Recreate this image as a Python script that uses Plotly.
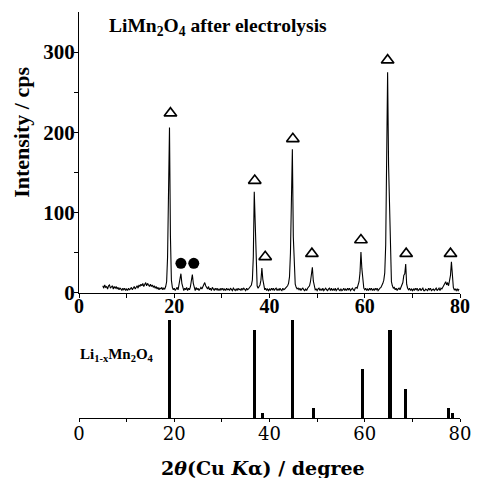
import plotly.graph_objects as go

# ---------------- data ----------------
# XRD pattern (LiMn2O4 after electrolysis): 2theta from 5.0 deg in 0.2 deg steps
two_theta_start = 5.0
two_theta_step = 0.2
intensity_rows = [
    [9, 6, 10, 7, 8, 5, 9, 10, 6, 8, 9, 5, 8, 6, 8, 5, 7, 4, 6, 5, 3, 6, 4, 6, 3],          # 5.0-9.8
    [5, 3, 6, 4, 5, 7, 4, 6, 8, 5, 7, 9, 6, 10, 8, 11, 9, 12, 8, 11, 13, 9, 12, 10, 8],      # 10.0-14.8
    [11, 8, 10, 7, 9, 6, 8, 5, 7, 4, 6, 5, 7, 4, 6, 5, 8, 14, 45, 160, 206, 70, 16, 7, 4],   # 15.0-19.8
    [6, 3, 5, 7, 4, 10, 16, 24, 12, 5, 3, 6, 4, 7, 3, 6, 4, 8, 14, 23, 12, 5, 3, 7, 4],      # 20.0-24.8
    [6, 3, 5, 7, 5, 8, 10, 13, 9, 7, 5, 8, 4, 6, 3, 7, 5, 3, 6, 4, 6, 3, 5, 3, 6],           # 25.0-29.8
    [4, 6, 3, 5, 3, 6, 4, 5, 3, 6, 4, 3, 6, 4, 3, 5, 3, 6, 4, 5, 3, 6, 4, 6, 5],             # 30.0-34.8
    [3, 6, 4, 5, 7, 8, 10, 16, 45, 126, 75, 20, 9, 6, 8, 10, 16, 31, 17, 8, 4, 6, 3, 5, 3],  # 35.0-39.8
    [5, 3, 6, 4, 6, 3, 5, 6, 3, 5, 3, 6, 4, 3, 6, 4, 5, 6, 7, 9, 12, 20, 50, 130, 179],      # 40.0-44.8
    [70, 22, 11, 7, 5, 6, 4, 6, 3, 5, 6, 4, 3, 5, 3, 6, 7, 9, 14, 25, 32, 15, 7, 4, 5],      # 45.0-49.8
    [3, 5, 6, 3, 5, 3, 6, 3, 4, 6, 4, 3, 5, 6, 3, 6, 3, 5, 3, 6, 3, 4, 6, 4, 3],             # 50.0-54.8
    [5, 3, 4, 6, 3, 5, 3, 6, 4, 6, 3, 5, 6, 4, 3, 6, 7, 6, 10, 14, 25, 51, 30, 12, 6],       # 55.0-59.8
    [4, 6, 3, 5, 3, 6, 4, 6, 3, 5, 3, 6, 4, 6, 3, 5, 6, 7, 9, 12, 16, 25, 60, 170, 275],     # 60.0-64.8
    [160, 100, 35, 14, 9, 6, 7, 4, 6, 3, 5, 6, 4, 7, 9, 13, 22, 24, 36, 11, 6, 4, 6, 3, 5],  # 65.0-69.8
    [3, 5, 3, 6, 4, 6, 3, 4, 6, 3, 4, 6, 3, 3, 5, 4, 3, 6, 4, 6, 3, 4, 5, 3, 4],             # 70.0-74.8
    [6, 3, 4, 6, 3, 6, 5, 7, 10, 12, 14, 10, 13, 9, 14, 22, 39, 14, 7, 4, 5, 3, 5, 3, 5],    # 75.0-79.8
]
intensity = [v for row in intensity_rows for v in row]
two_theta = [round(two_theta_start + i * two_theta_step, 2) for i in range(len(intensity))]

# Peak markers: triangles = Li1-xMn2O4, circles = other phase
triangle_x = [19.2, 36.9, 39.1, 44.9, 48.9, 59.2, 64.8, 68.7, 78.0]
triangle_y = [224, 140, 45, 192, 49, 66, 290, 49, 49]
circle_x = [21.4, 24.1]
circle_y = [37, 37]

# Reference pattern Li1-xMn2O4 (relative intensity)
ref_x = [19.0, 36.9, 38.5, 44.8, 49.2, 59.5, 65.3, 68.6, 77.5, 78.4]
ref_y = [100, 90, 5, 100, 10, 50, 90, 30, 10, 5]

x_ticks = [0, 20, 40, 60, 80]

# ---------------- figure ----------------
BOLD_SERIF = "Liberation Serif"
fig = go.Figure()

fig.add_trace(go.Scatter(x=two_theta, y=intensity, mode="lines",
                         line=dict(color="black", width=1.1),
                         xaxis="x", yaxis="y", showlegend=False))
fig.add_trace(go.Scatter(x=triangle_x, y=triangle_y, mode="markers",
                         marker=dict(symbol="triangle-up-open", size=11, color="black",
                                     line=dict(width=1.6, color="black")),
                         xaxis="x", yaxis="y", showlegend=False))
fig.add_trace(go.Scatter(x=circle_x, y=circle_y, mode="markers",
                         marker=dict(symbol="circle", size=11, color="black"),
                         xaxis="x", yaxis="y", showlegend=False))
fig.add_trace(go.Bar(x=ref_x, y=ref_y, width=0.65, marker=dict(color="black", line=dict(width=0)),
                     xaxis="x2", yaxis="y2", showlegend=False))

fig.update_layout(
    width=483, height=478,
    margin=dict(l=79, r=12, t=12, b=60),
    paper_bgcolor="white", plot_bgcolor="white",
    bargap=0,
    xaxis=dict(domain=[0, 1], range=[0, 80], anchor="y",
               tickmode="array", tickvals=x_ticks, ticktext=[str(v) for v in x_ticks],
               ticks="outside", ticklen=4, tickwidth=1.2, tickcolor="black",
               minor=dict(tickvals=[10, 30, 50, 70], ticks="outside", ticklen=4, tickwidth=1.2, tickcolor="black"),
               showline=True, linecolor="black", linewidth=1.3,
               showgrid=False, zeroline=False, ticklabelstandoff=-9,
               tickfont=dict(family=BOLD_SERIF, size=20, color="black", weight="bold")),
    yaxis=dict(domain=[0.3079, 1.0], range=[0, 350], anchor="x",
               tickmode="array", tickvals=[0, 100, 200, 300],
               ticks="outside", ticklen=4, tickwidth=1.2, tickcolor="black",
               minor=dict(tickvals=[50, 150, 250], ticks="outside", ticklen=4, tickwidth=1.2, tickcolor="black"),
               showline=True, linecolor="black", linewidth=1.3,
               showgrid=False, zeroline=False, ticklabelstandoff=-5,
               tickfont=dict(family=BOLD_SERIF, size=21, color="black", weight="bold")),
    xaxis2=dict(domain=[0, 1], range=[0, 80], anchor="y2",
                tickmode="array", tickvals=x_ticks, ticktext=[str(v) for v in x_ticks],
                ticks="outside", ticklen=3, tickwidth=1.2, tickcolor="black",
                minor=dict(tickvals=[10, 30, 50, 70], ticks="outside", ticklen=3, tickwidth=1.2, tickcolor="black"),
                showline=True, linecolor="black", linewidth=1.3,
                showgrid=False, zeroline=False, ticklabelstandoff=-4,
                tickfont=dict(family="DejaVu Serif", size=18, color="black")),
    yaxis2=dict(domain=[0, 0.2414], range=[0, 100], anchor="x2", visible=False),
    annotations=[
        dict(text="LiMn<sub>2</sub>O<sub>4</sub> after electrolysis", xref="paper", yref="paper",
             x=0.074, y=0.963, xanchor="left", yanchor="middle", showarrow=False,
             font=dict(family=BOLD_SERIF, size=19.5, color="black", weight="bold")),
        dict(text="Intensity / cps", xref="paper", yref="paper", textangle=-90,
             x=-0.1505, y=0.704, xanchor="center", yanchor="middle", showarrow=False,
             font=dict(family=BOLD_SERIF, size=22, color="black", weight="bold")),
        dict(text="Li<sub>1-x</sub>Mn<sub>2</sub>O<sub>4</sub>", xref="paper", yref="paper",
             x=-0.0026, y=0.155, xanchor="left", yanchor="middle", showarrow=False,
             font=dict(family=BOLD_SERIF, size=15, color="black", weight="bold")),
        dict(text="2<i>θ</i>(Cu <i>K</i>α) / degree", xref="paper", yref="paper",
             x=0.482, y=-0.123, xanchor="center", yanchor="middle", showarrow=False,
             font=dict(family="DejaVu Serif", size=19, color="black", weight="bold")),
    ],
)

fig.write_html("out.html", config={"displayModeBar": False},
               post_script="document.body.style.margin='0';document.body.style.padding='0';")
